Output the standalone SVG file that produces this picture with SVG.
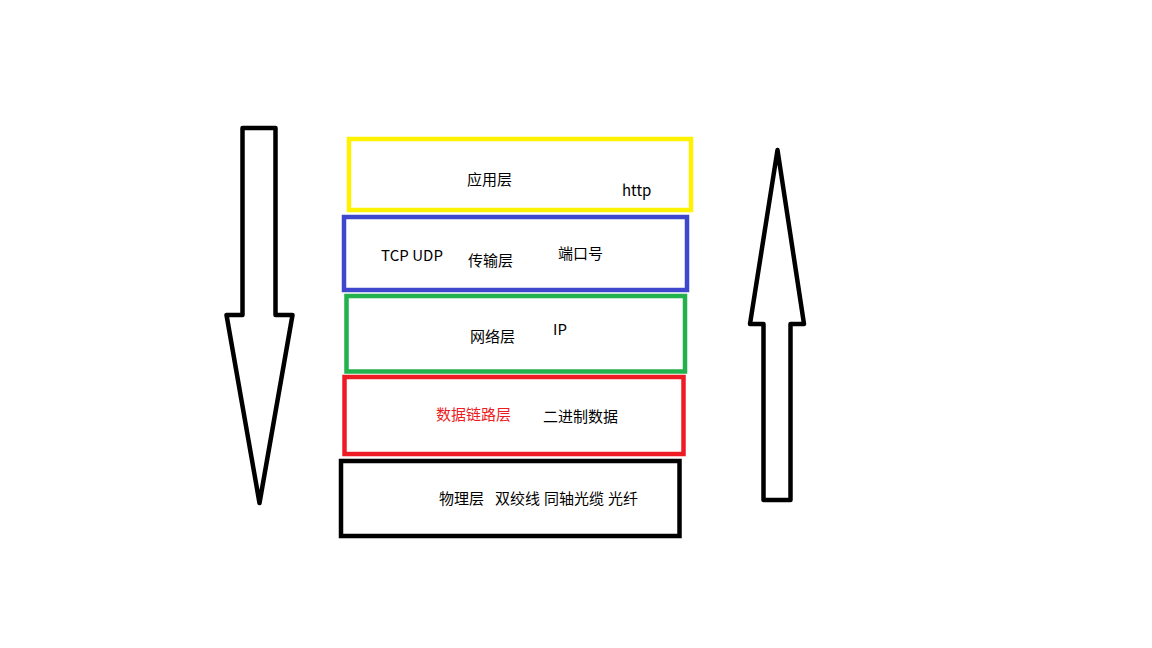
<svg xmlns="http://www.w3.org/2000/svg" width="1152" height="648" viewBox="0 0 1152 648">
<style>
.box{fill:none;stroke-width:4.5}
.arrow{fill:#fff;stroke:#000;stroke-width:4.5;stroke-linejoin:round}
text{font-family:"Microsoft YaHei","Noto Sans CJK SC","Noto Sans",sans-serif;font-size:15px;fill:#000}
</style>
<rect width="1152" height="648" fill="#fff"/>
<g id="connectors">
<polygon id="arrow-down" class="arrow" points="242.5,128 275.5,128 275.5,315 292.5,315 259.5,503 226.5,315 242.5,315"/>
<polygon id="arrow-up" class="arrow" points="777.5,150 804,324 790.5,324 790.5,500 763.5,500 763.5,324 750,324"/>
</g>
<g id="app-layer">
<rect class="box" x="349" y="139" width="342" height="71" stroke="#FFF200"/>
<text x="467" y="185">应用层</text>
<text x="622" y="196">http</text>
</g>
<g id="transport-layer">
<rect class="box" x="344" y="217" width="343" height="73" stroke="#3F48CC"/>
<text x="381" y="261" textLength="62">TCP UDP</text>
<text x="468" y="266">传输层</text>
<text x="558" y="259">端口号</text>
</g>
<g id="network-layer">
<rect class="box" x="346.5" y="296" width="338.5" height="75.5" stroke="#22B14C"/>
<text x="470" y="342">网络层</text>
<text x="553" y="335">IP</text>
</g>
<g id="datalink-layer">
<rect class="box" x="344.5" y="377" width="339" height="77" stroke="#ED1C24"/>
<text x="436" y="420" style="fill:#ED1C24">数据链路层</text>
<text x="543" y="422">二进制数据</text>
</g>
<g id="physical-layer">
<rect class="box" x="341" y="461" width="338.5" height="75" stroke="#000" stroke-width="5"/>
<text y="504"><tspan x="439">物理层</tspan><tspan x="495">双绞线</tspan><tspan x="544">同轴光缆</tspan><tspan x="608">光纤</tspan></text>
</g>
</svg>
